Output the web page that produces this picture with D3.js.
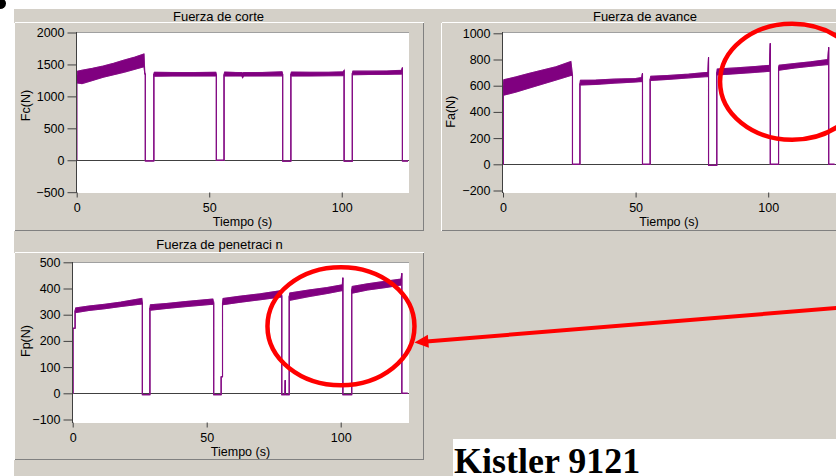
<!DOCTYPE html>
<html>
<head>
<meta charset="utf-8">
<script src="https://cdn.jsdelivr.net/npm/d3@7"></script>
<style>
  html, body { margin: 0; padding: 0; background: #fff; }
  svg { display: block; }
</style>
</head>
<body>
<svg id="chart" width="836" height="476"></svg>
<script>
// ---- Data: force signals from the Kistler 9121 dynamometer ----
// Each trace is stored as time (s) with the lower / upper envelope of the
// noisy signal (N). Transitions repeat a time value with lo == hi.
const timeTicks = [0, 50, 100];

// Fuerza de corte, Fc (N)
const corteT  = [0, 0, 0.3, 2, 6, 10, 14, 18, 22, 25.4, 25.7, 25.9, 25.9, 29.1, 29.1, 29.3, 36, 44, 52.5, 52.7, 52.7,
                 55.6, 55.6, 55.8, 60, 62.3, 62.6, 63, 70, 77.5, 77.7, 77.7, 80.8, 80.8, 81.0, 88, 95, 100.6, 100.9, 100.9,
                 104.0, 104.0, 104.2, 110, 117, 122.6, 122.9, 122.9, 125];
const corteLo = [0, 1280, 1210, 1200, 1250, 1300, 1340, 1380, 1425, 1465, 1350, 1350, -10, -10, 1350, 1315, 1318, 1318, 1320, 1340, 0,
                 0, 1340, 1318, 1320, 1320, 1290, 1318, 1320, 1322, 1350, -15, -15, 1350, 1318, 1320, 1322, 1325, 1405, -15,
                 -15, 1360, 1338, 1342, 1345, 1350, 1450, -12, -12];
const corteHi = [0, 1280, 1395, 1410, 1440, 1475, 1520, 1570, 1615, 1665, 1350, 1350, -10, -10, 1350, 1378, 1375, 1372, 1378, 1340, 0,
                 0, 1340, 1380, 1375, 1372, 1365, 1372, 1375, 1385, 1350, -15, -15, 1350, 1380, 1378, 1378, 1385, 1405, -15,
                 -15, 1360, 1395, 1395, 1398, 1410, 1450, -12, -12];
const corteTicks = [-500, 0, 500, 1000, 1500, 2000];

// Fuerza de avance, Fa (N)
const avanceT  = [0, 0.1, 0.1, 0.3, 5, 10, 15, 20, 25.6, 26.2, 26.2, 29.0, 29.0, 29.2, 35, 42, 50, 52.3, 52.6, 52.6,
                  55.5, 55.5, 55.7, 62, 70, 77.3, 77.5, 77.5, 80.6, 80.6, 80.8, 88, 95, 100.5, 100.8, 100.8,
                  103.9, 103.9, 104.1, 110, 116, 122.5, 122.8, 122.8, 125];
const avanceLo = [0, 0, 600, 528, 552, 583, 613, 643, 678, 680, 0, 0, 615, 605, 610, 620, 628, 633, 695, 0,
                  0, 650, 640, 648, 660, 670, 817, -8, -8, 700, 682, 692, 702, 710, 923, 0,
                  0, 740, 718, 735, 748, 762, 893, 0, 0];
const avanceHi = [0, 0, 600, 645, 668, 695, 720, 745, 785, 680, 0, 0, 615, 642, 643, 650, 655, 662, 695, 0,
                  0, 650, 672, 678, 688, 702, 817, -8, -8, 700, 728, 736, 746, 756, 923, 0,
                  0, 740, 757, 770, 782, 800, 893, 0, 0];
const avanceTicks = [-200, 0, 200, 400, 600, 800, 1000];

// Fuerza de penetración, Fp (N)
const penetT  = [0, 0.1, 0.1, 0.9, 0.9, 1.1, 6, 12, 18, 25.8, 26.0, 26.0, 28.8, 28.8, 29.0, 35, 42, 52.3, 52.6, 52.6,
                 55.4, 55.4, 55.9, 55.9, 56.1, 62, 70, 77.8, 78.0, 78.0, 79.2, 79.3, 79.4, 80.8, 80.8, 81.0, 88, 95, 100.6,
                 100.8, 100.8, 104.1, 104.1, 104.3, 110, 117, 122.5, 122.8, 122.8, 125];
const penetLo = [0, 0, 248, 248, 315, 308, 316, 323, 331, 341, 345, -5, -5, 325, 317, 324, 331, 340, 345, -5,
                 -5, 63, 63, 345, 338, 347, 357, 368, 370, -5, -5, 50, -5, -5, 370, 355, 369, 381, 392,
                 441, -5, -5, 395, 382, 394, 404, 413, 458, 0, 0];
const penetHi = [0, 0, 248, 248, 315, 326, 333, 340, 348, 362, 345, -5, -5, 325, 338, 343, 350, 360, 345, -5,
                 -5, 63, 63, 345, 362, 370, 380, 392, 370, -5, -5, 50, -5, -5, 370, 383, 394, 404, 414,
                 441, -5, -5, 395, 408, 418, 428, 436, 458, 0, 0];
const penetTicks = [-100, 0, 100, 200, 300, 400, 500];

// ---- Layout ----
const W = 836, H = 476;
const BG = "#d4d0c8", LIGHT = "#ffffff", DARK = "#808080";
const TRACE = "#800080", TRACE_EDGE = "#9a3a9a";
const SANS = "'Liberation Sans', Arial, sans-serif";

const svg = d3.select("#chart");
svg.append("rect").attr("width", W).attr("height", H).attr("fill", "#fff");
svg.append("rect").attr("x", 14).attr("y", 9).attr("width", W - 14).attr("height", H - 9).attr("fill", BG);

// small mark cut by the top-left corner
svg.append("ellipse").attr("cx", 0).attr("cy", 3.5).attr("rx", 6).attr("ry", 5.5).attr("fill", "#000");

function hline(x1, x2, y, c) {
  svg.append("line").attr("x1", x1).attr("x2", x2).attr("y1", y).attr("y2", y)
    .attr("stroke", c).attr("shape-rendering", "crispEdges");
}
function vline(x, y1, y2, c) {
  svg.append("line").attr("x1", x).attr("x2", x).attr("y1", y1).attr("y2", y2)
    .attr("stroke", c).attr("shape-rendering", "crispEdges");
}

const panels = [
  { title: "Fuerza de corte", titleX: 218.5, titleY: 20.5, yLabel: "Fc(N)", labelX: 29.5, labelY: 105.5,
    T: corteT, LO: corteLo, HI: corteHi, yTicks: corteTicks, yDomain: [-500, 2000],
    plot: [76, 32, 409, 193], xRange: [76.7, 408], yRange: [192.2, 32.5], axisX: 76.5,
    frame: { x0: 14.5, y0: 22.5, x1: 423.5, y1: 230.5, left: true, right: true } },
  { title: "Fuerza de avance", titleX: 645, titleY: 20.5, yLabel: "Fa(N)", labelX: 455, labelY: 111.7,
    T: avanceT, LO: avanceLo, HI: avanceHi, yTicks: avanceTicks, yDomain: [-200, 1000],
    plot: [502, 32, 836, 193], xRange: [503, 834.5], yRange: [190.5, 33.3], axisX: 502.5,
    frame: { x0: 441.5, y0: 22.5, x1: 900, y1: 230.5, left: true, right: false } },
  { title: "Fuerza de penetraci n", titleX: 219.5, titleY: 249, yLabel: "Fp(N)", labelX: 29.5, labelY: 341,
    T: penetT, LO: penetLo, HI: penetHi, yTicks: penetTicks, yDomain: [-100, 500],
    plot: [72, 262, 409, 423], xRange: [72.7, 407.7], yRange: [419.5, 262.3], axisX: 72.5,
    frame: { x0: 14.5, y0: 252.5, x1: 423.5, y1: 459.5, left: true, right: true } }
];

const scales = [];

panels.forEach((p, idx) => {
  const f = p.frame;
  // raised frame of the graph window
  hline(f.x0, Math.min(f.x1, W), f.y0, LIGHT);
  if (f.left) vline(f.x0, f.y0, f.y1, LIGHT);
  if (f.right) vline(f.x1, f.y0, f.y1, DARK);
  hline(f.x0, Math.min(f.x1, W), f.y1, DARK);

  svg.append("text").attr("x", p.titleX).attr("y", p.titleY)
    .attr("text-anchor", "middle").attr("font-family", SANS).attr("font-size", 13)
    .attr("fill", "#000").text(p.title);

  const [px0, py0, px1, py1] = p.plot;
  svg.append("rect").attr("x", px0).attr("y", py0).attr("width", px1 - px0).attr("height", py1 - py0)
    .attr("fill", "#fff");
  hline(px0, px1, py0 + 0.5, "#a0a0a0");

  const x = d3.scaleLinear().domain([0, 125]).range(p.xRange);
  const y = d3.scaleLinear().domain(p.yDomain).range(p.yRange);
  scales.push({ x, y });

  const clipId = "clip" + idx;
  svg.append("clipPath").attr("id", clipId).append("rect")
    .attr("x", px0).attr("y", py0).attr("width", px1 - px0).attr("height", py1 - py0);

  const g = svg.append("g").attr("clip-path", `url(#${clipId})`);

  // zero reference line
  g.append("line").attr("x1", px0).attr("x2", px1).attr("y1", Math.round(y(0)) + 0.5).attr("y2", Math.round(y(0)) + 0.5)
    .attr("stroke", "#404040").attr("shape-rendering", "crispEdges");

  const pts = p.T.map((t, i) => ({ t, lo: p.LO[i], hi: p.HI[i] }));
  const hiLine = d3.line().x(d => x(d.t)).y(d => y(d.hi));
  const loLine = d3.line().x(d => x(d.t)).y(d => y(d.lo));
  const band = d3.area().x(d => x(d.t)).y0(d => y(d.lo)).y1(d => y(d.hi));

  g.append("path").datum(pts).attr("d", hiLine).attr("fill", "none").attr("stroke", TRACE_EDGE).attr("stroke-width", 1.1);
  g.append("path").datum(pts).attr("d", loLine).attr("fill", "none").attr("stroke", TRACE_EDGE).attr("stroke-width", 1.1);
  g.append("path").datum(pts).attr("d", band).attr("fill", TRACE).attr("stroke", TRACE).attr("stroke-width", 0.6);

  // y axis
  const gy = svg.append("g").attr("transform", `translate(${p.axisX},0)`)
    .call(d3.axisLeft(y).tickValues(p.yTicks).tickSize(9).tickSizeOuter(0).tickPadding(3).tickFormat(d3.format("d")));
  gy.select(".domain").remove();
  gy.attr("font-family", SANS).attr("font-size", 12.5).attr("color", "#000");
  gy.selectAll(".tick line").attr("stroke", "#404040");
  vline(p.axisX, py0, py1, "#404040");

  // x axis
  const gx = svg.append("g").attr("transform", `translate(0,${py1 - 0.5})`)
    .call(d3.axisBottom(x).tickValues(timeTicks).tickSize(5).tickSizeOuter(0).tickPadding(6));
  gx.select(".domain").remove();
  gx.attr("font-family", SANS).attr("font-size", 12.5).attr("color", "#000");
  gx.selectAll(".tick line").attr("stroke", "#404040");

  svg.append("text").attr("x", (px0 + px1) / 2).attr("y", py1 + 33)
    .attr("text-anchor", "middle").attr("font-family", SANS).attr("font-size", 12.5)
    .attr("fill", "#000").text("Tiempo (s)");

  svg.append("text").attr("transform", `translate(${p.labelX},${p.labelY}) rotate(-90)`)
    .attr("text-anchor", "middle").attr("font-family", SANS).attr("font-size", 12.5)
    .attr("fill", "#000").text(p.yLabel);
});

// ---- Highlights ----
const RED = "#ff0000";
const sA = scales[1], sP = scales[2];
svg.append("ellipse").attr("cx", sA.x(109)).attr("cy", sA.y(630)).attr("rx", 72).attr("ry", 58)
  .attr("fill", "none").attr("stroke", RED).attr("stroke-width", 4.5);
svg.append("ellipse").attr("cx", sP.x(100.1)).attr("cy", sP.y(256)).attr("rx", 73.5).attr("ry", 59)
  .attr("fill", "none").attr("stroke", RED).attr("stroke-width", 4.5);

// arrow pointing to the penetration-force highlight
const tip = [sP.x(127.5), sP.y(194)], tail = [sP.x(285), sP.y(325.6)];
const dx = tip[0] - tail[0], dy = tip[1] - tail[1], len = Math.hypot(dx, dy);
const ux = dx / len, uy = dy / len, headL = 14, headW = 6.5;
const base = [tip[0] - ux * headL, tip[1] - uy * headL];
svg.append("line").attr("x1", tail[0]).attr("y1", tail[1]).attr("x2", base[0] + ux * 2).attr("y2", base[1] + uy * 2)
  .attr("stroke", RED).attr("stroke-width", 4);
svg.append("polygon")
  .attr("points", [tip, [base[0] - uy * headW, base[1] + ux * headW], [base[0] + uy * headW, base[1] - ux * headW]]
    .map(q => q.join(",")).join(" "))
  .attr("fill", RED);

// ---- Sensor caption ----
svg.append("rect").attr("x", 453).attr("y", 439).attr("width", W - 453).attr("height", H - 439).attr("fill", "#fff");
svg.append("text").attr("x", 454).attr("y", 473)
  .attr("font-family", "'Liberation Serif', 'Times New Roman', serif").attr("font-weight", "bold")
  .attr("font-size", 36).attr("fill", "#000").text("Kistler 9121");
</script>
</body>
</html>
